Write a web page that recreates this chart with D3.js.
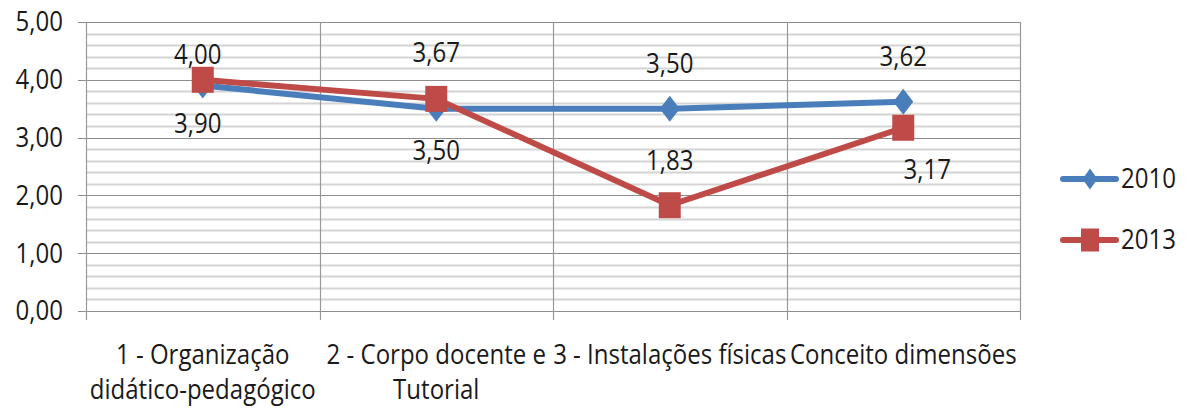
<!DOCTYPE html>
<html><head><meta charset="utf-8">
<script src="https://cdn.jsdelivr.net/npm/d3@7"></script>
<style>
html,body{margin:0;padding:0;background:#fff;}
svg text{font-family:"Open Sans","Noto Sans",sans-serif;fill:#1a1a1a;}
</style></head>
<body>
<svg id="c" width="1189" height="411"></svg>
<script>
const categories = [["1 - Organização","didático-pedagógico"],["2 - Corpo docente e","Tutorial"],["3 - Instalações físicas"],["Conceito dimensões"]];
const seriesNames = ["2010","2013"];
const values2010 = [3.90, 3.50, 3.50, 3.62];
const values2013 = [4.00, 3.67, 1.83, 3.17];
const yTicks = [0,1,2,3,4,5];
// label placement (dx, dy from point)
const labelOffsets2010 = [[-5,38],[0,42],[0,-45],[0,-45]];
const labelOffsets2013 = [[-5,-25],[0,-46],[0,-45],[24,42]];

const colors = ["#4A7EBB","#BE4B48"];
const svg = d3.select("#c");
const L=86, R=1020, T=22, B=311;
const SX = 0.89, FS = "27px";
const x = d3.scaleBand().domain(d3.range(categories.length)).range([L,R]);
const y = d3.scaleLinear().domain([0,5]).range([B,T]);
const fmt = v => d3.format(".2f")(v).replace(".",",");

function txt(px, py, s, anchor){
  const g = svg.append("g").attr("transform",`translate(${px},${py}) scale(${SX},1)`);
  return g.append("text").attr("x",0).attr("y",0).attr("dy","0.35em")
    .attr("text-anchor",anchor||"middle").style("font-size",FS).text(s);
}
function diamondPath(w,h){
  return `M0,${-h/2}L${w/2},0L0,${h/2}L${-w/2},0Z`;
}

// minor gridlines
const minor = d3.range(0,5.001,0.2).filter(v=>Math.abs(v-Math.round(v))>1e-6);
svg.append("g").selectAll("line").data(minor).join("line")
  .attr("x1",L).attr("x2",R).attr("y1",d=>Math.round(y(d))+0.5).attr("y2",d=>Math.round(y(d))+0.5)
  .attr("stroke","#d4d4d4").attr("stroke-width",2);
// major gridlines
svg.append("g").selectAll("line").data(yTicks).join("line")
  .attr("x1",L-8).attr("x2",R).attr("y1",d=>Math.round(y(d))+0.5).attr("y2",d=>Math.round(y(d))+0.5)
  .attr("stroke","#8c8c8c").attr("stroke-width",1.2);
// vertical lines at category boundaries
const bounds = d3.range(categories.length+1).map(i=> i<categories.length ? x(i) : R);
svg.append("g").selectAll("line").data(bounds).join("line")
  .attr("x1",d=>Math.round(d)+0.5).attr("x2",d=>Math.round(d)+0.5).attr("y1",T).attr("y2",B+9)
  .attr("stroke","#999").attr("stroke-width",1.2);

// y tick labels
yTicks.forEach(d=>txt(63, y(d), fmt(d), "end"));

// x labels
categories.forEach((lines,i)=>{
  lines.forEach((ln,j)=>txt(x(i)+x.bandwidth()/2, 355+j*35, ln, "middle"));
});

const series = [values2010, values2013];
const offsets = [labelOffsets2010, labelOffsets2013];
const cx = i => x(i)+x.bandwidth()/2;
const line = d3.line().x((d,i)=>cx(i)).y(d=>y(d));
series.forEach((vals,s)=>{
  svg.append("path").attr("d",line(vals)).attr("fill","none").attr("stroke",colors[s])
    .attr("stroke-width",6).attr("stroke-linejoin","round");
});
series.forEach((vals,s)=>{
  const g = svg.append("g");
  vals.forEach((v,i)=>{
    if(s===0){
      g.append("path").attr("d",diamondPath(20,26)).attr("transform",`translate(${cx(i)},${y(v)})`).attr("fill",colors[s]);
    } else {
      g.append("rect").attr("x",cx(i)-11).attr("y",y(v)-13).attr("width",22).attr("height",26).attr("fill",colors[s]);
    }
  });
});
series.forEach((vals,s)=>{
  vals.forEach((v,i)=>txt(cx(i)+offsets[s][i][0], y(v)+offsets[s][i][1], fmt(v), "middle"));
});

// legend
const legY = [179, 240];
seriesNames.forEach((n,s)=>{
  const g = svg.append("g");
  g.append("line").attr("x1",1063).attr("x2",1116).attr("y1",legY[s]).attr("y2",legY[s])
    .attr("stroke",colors[s]).attr("stroke-width",6).attr("stroke-linecap","round");
  if(s===0) g.append("path").attr("d",diamondPath(15,21)).attr("transform",`translate(1090,${legY[s]})`).attr("fill",colors[s]);
  else g.append("rect").attr("x",1081).attr("y",legY[s]-11.5).attr("width",18).attr("height",23).attr("fill",colors[s]);
  txt(1121, legY[s], n, "start");
});
</script>
</body></html>
